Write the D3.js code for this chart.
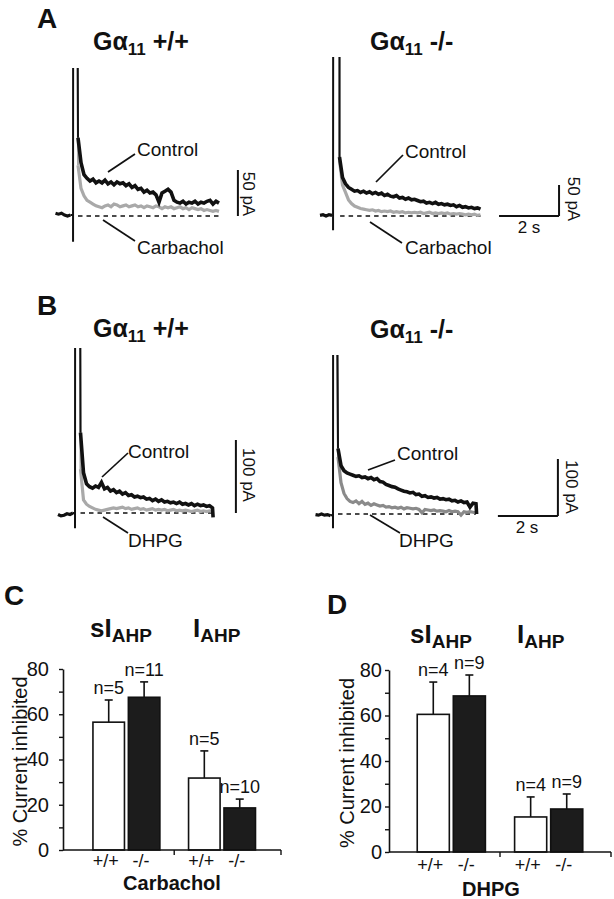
<!DOCTYPE html>
<html><head><meta charset="utf-8">
<script src="https://cdn.jsdelivr.net/npm/d3@7"></script>
<style>
body{margin:0;background:#fff}
svg{display:block}
text{font-family:"Liberation Sans",Arial,Helvetica,sans-serif;fill:#111}
</style></head>
<body><svg id="fig" width="614" height="899"></svg>
<script>
// ---------- DATA ----------
// sampling grid of the current traces (s after the spike)
const traceTimes = [0.1,0.2,0.3,0.4,0.5,0.6,0.7,0.8,0.9,1.0,1.1,1.2,1.3,1.4,1.5,1.6,1.7,1.8,1.9,2.0,
  2.1,2.2,2.3,2.4,2.5,2.6,2.7,2.8,2.9,3.0,3.1,3.2,3.3,3.4,3.5,3.6,3.7,3.8,3.9,4.0,
  4.1,4.2,4.3,4.4,4.5,4.6,4.7,4.8];
const preTimes = [-0.65,-0.55,-0.45,-0.35,-0.25,-0.15];

// Panel A, Gα11 +/+ (pA)
const aWtPre = [3,2,3,1,0,1];
const aWtSpike = [[-0.065,1],[-0.065,-28],[-0.06,400],[0.065,400]];
const aWtControl = [85,58,45,41,38,40,36,38,36,39,35,37,34,37,35,36,33,35,31,33,29,30,26,28,25,26,23,15,25,27,29,26,17,15,14,16,13,15,14,16,13,15,14,16,17,13,16,14];
const aWtCarbachol = [55,30,22,17,15,13,11,10,9,11,12,10,13,12,10,11,12,10,11,12,10,11,9,11,10,9,11,10,8,10,9,10,8,9,10,8,9,7,9,8,7,8,6,7,6,5,6,5];
// Panel A, Gα11 -/-
const aKoPre = [1,2,0,2,1];
const aKoSpike = [[-0.115,0],[-0.115,-23],[-0.11,400],[0.1,400]];
const aKoControl = [95,62,52,46,43,40,41,38,40,37,39,36,38,35,37,33,35,32,31,33,29,30,27,29,26,27,25,23,24,21,22,20,22,19,20,18,19,17,18,15,17,14,15,13,14,12,13,11];
const aKoCarbachol = [90,50,38,26,20,16,14,12,11,10,9,10,8,9,7,8,7,8,6,7,6,7,5,6,5,6,5,6,4,5,6,4,5,4,5,4,5,3,4,3,4,3,2,3,2,3,1,2];
// Panel B, Gα11 +/+
const bWtPre = [-2,-4,-3,-1,-2,0];
const bWtSpike = [[-0.083,0],[-0.083,-21],[-0.078,400],[0.083,400]];
const bWtControl = [110,55,40,36,34,37,35,42,33,35,30,32,28,30,26,28,24,25,22,23,21,22,19,20,17,19,16,18,15,16,14,15,13,15,12,13,11,13,10,12,10,11,9,10,7];
const bWtControlTail = [[4.52,-6]];
const bWtDHPG = [60,18,12,9,7,5,4,3,4,5,6,7,6,7,8,6,7,5,6,7,5,6,4,5,6,4,5,4,5,3,4,5,3,4,3,4,3,2,3,4,2,3,2,3,2];
// Panel B, Gα11 -/-
const bKoPre = [-1,-2,0,-2,-1,-3];
const bKoSpike = [[-0.067,-1],[-0.067,-25],[-0.062,400],[0.067,400]];
const bKoControl = [115,85,76,72,70,68,66,67,64,65,62,64,60,62,57,56,52,50,48,47,44,42,40,39,37,38,34,35,31,32,29,30,28,29,26,27,25,26,23,24,21,23,20,21,12,19,18];
const bKoControlTail = [[4.72,0]];
const bKoDHPG = [100,55,36,27,22,20,23,18,22,17,19,15,18,16,14,15,12,13,11,12,10,12,9,11,10,9,10,8,2,8,7,6,7,5,6,5,4,6,4,5,4,-2,4,3,4,3,2];

// Bar charts
const groups = ["sIAHP","IAHP"];
const genotypes = ["+/+","-/-"];
const yTicks = [0,10,20,30,40,50,60,70,80];
const carbMean = [56.5,67.5,31.8,18.6];
const carbSem  = [9.8,6.8,12.0,3.9];
const carbN    = ["n=5","n=11","n=5","n=10"];
const dhpgMean = [60.5,68.6,15.4,18.9];
const dhpgSem  = [14.2,9.2,8.8,6.6];
const dhpgN    = ["n=4","n=9","n=4","n=9"];

// ---------- DRAW ----------
const svg = d3.select("#fig");

function label(x, y, txt, size, weight, anchor) {
  return svg.append("text").attr("x", x).attr("y", y).attr("font-size", size)
    .attr("font-weight", weight || "normal").attr("text-anchor", anchor || "start").text(txt);
}
function leader(x1, y1, x2, y2) {
  svg.append("line").attr("x1", x1).attr("y1", y1).attr("x2", x2).attr("y2", y2)
    .attr("stroke", "#111").attr("stroke-width", 1.7);
}
function gTitle(x, y, suffix) {
  const t = svg.append("text").attr("x", x).attr("y", y).attr("font-size", 25).attr("font-weight", "bold");
  t.append("tspan").text("Gα");
  t.append("tspan").attr("font-size", 17).attr("dy", 5).text("11");
  t.append("tspan").attr("dy", -5).text(" " + suffix);
}
function ahpTitle(x, y, pre) {
  const t = svg.append("text").attr("x", x).attr("y", y).attr("font-size", 26).attr("font-weight", "bold");
  t.append("tspan").text(pre + "I");
  t.append("tspan").attr("font-size", 19).attr("dy", 5).text("AHP");
}

let clipCount = 0;
function tracePanel(p) {
  const x = d3.scaleLinear().domain([0, 1]).range([p.t0, p.t0 + 30]);
  const y = d3.scaleLinear().domain([0, 1]).range([p.base, p.base - p.pxPerPA]);
  const id = "clip" + (clipCount++);
  svg.append("clipPath").attr("id", id).append("rect")
    .attr("x", 0).attr("y", p.top).attr("width", 614).attr("height", 899 - p.top);
  const g = svg.append("g").attr("clip-path", `url(#${id})`);
  const line = d3.line().x(d => x(d[0])).y(d => y(d[1]));
  // dashed zero line
  g.append("path").datum([[p.dashFrom, 0], [p.end, 0]]).attr("d", line)
    .attr("stroke", "#111").attr("stroke-width", 1.3).attr("stroke-dasharray", "4.5,4").attr("fill", "none");
  const drugPost = p.drug.map((v, i) => [traceTimes[i], v]);
  const ctrlPost = p.control.map((v, i) => [traceTimes[i], v]).concat(p.tail || []);
  // drug (gray): spike + decay
  g.append("path").datum(p.spike.slice(2).concat(drugPost.slice(0, 1))).attr("d", line).attr("fill", "none")
    .attr("stroke", p.gray).attr("stroke-width", 2);
  g.append("path").datum(drugPost).attr("d", line).attr("fill", "none")
    .attr("stroke", p.gray).attr("stroke-width", 3.2).attr("stroke-linejoin", "miter");
  // control (black): baseline + spike, then decay
  const prePts = preTimes.slice(preTimes.length - p.pre.length).map((t, i) => [t, p.pre[i]]);
  g.append("path").datum(prePts).attr("d", line).attr("fill", "none")
    .attr("stroke", "#111").attr("stroke-width", 3.2);
  g.append("path").datum(prePts.slice(-1).concat(p.spike, ctrlPost.slice(0, 1))).attr("d", line).attr("fill", "none")
    .attr("stroke", "#111").attr("stroke-width", 2);
  g.append("path").datum(ctrlPost).attr("d", line).attr("fill", "none")
    .attr("stroke", "#111").attr("stroke-width", 3.6).attr("stroke-linejoin", "miter");
  // scale bars
  const sb = svg.append("g").attr("stroke", "#111").attr("stroke-width", 2).attr("fill", "none");
  if (p.hBar) {
    sb.append("line").attr("x1", x(p.hBar[0])).attr("x2", x(p.hBar[1]))
      .attr("y1", y(p.barY0)).attr("y2", y(p.barY0));
  }
  sb.append("line").attr("x1", x(p.vBarT)).attr("x2", x(p.vBarT))
    .attr("y1", y(p.barY0)).attr("y2", y(p.barY0 + p.vBarPA));
  return {x, y};
}

// Panel letters
label(37, 28, "A", 28, "bold");
label(37, 315, "B", 28, "bold");
label(4, 605, "C", 28, "bold");
label(327, 614, "D", 28, "bold");

// ---- Panel A ----
gTitle(93, 50, "+/+");
gTitle(370, 50, "-/-");
tracePanel({t0: 75, base: 216, pxPerPA: 0.92, top: 68, pre: aWtPre, spike: aWtSpike,
  control: aWtControl, drug: aWtCarbachol, gray: "#a9a9a9", dashFrom: 0.1, end: 4.8,
  vBarT: 5.43, barY0: 0, vBarPA: 50});
tracePanel({t0: 336.5, base: 216, pxPerPA: 0.62, top: 57, pre: aKoPre, spike: aKoSpike,
  control: aKoControl, drug: aKoCarbachol, gray: "#a9a9a9", dashFrom: 0.12, end: 4.85,
  hBar: [5.418, 7.418], vBarT: 7.418, barY0: 0, vBarPA: 50});
label(137, 156, "Control", 19);
leader(135, 154, 108, 172);
label(137, 254, "Carbachol", 19);
leader(103, 220, 135, 241);
label(405, 158, "Control", 19);
leader(403, 155, 376, 182);
label(405, 254, "Carbachol", 19);
leader(370, 222, 402, 243);
svg.append("text").attr("font-size", 17).attr("text-anchor", "middle")
  .attr("transform", "translate(243,194) rotate(90)").text("50 pA");
svg.append("text").attr("font-size", 17).attr("text-anchor", "middle")
  .attr("transform", "translate(568,199) rotate(90)").text("50 pA");
label(529, 233, "2 s", 17, "normal", "middle");

// ---- Panel B ----
gTitle(93, 337, "+/+");
gTitle(370, 338, "-/-");
tracePanel({t0: 77.5, base: 513, pxPerPA: 0.73, top: 348, pre: bWtPre, spike: bWtSpike,
  control: bWtControl, tail: bWtControlTail, drug: bWtDHPG, gray: "#a9a9a9", dashFrom: 0.1, end: 4.5,
  vBarT: 5.28, barY0: 0, vBarPA: 100});
tracePanel({t0: 335, base: 514, pxPerPA: 0.57, top: 355, pre: bKoPre, spike: bKoSpike,
  control: bKoControl, tail: bKoControlTail, drug: bKoDHPG, gray: "#8a8a8a", dashFrom: 0.1, end: 4.7,
  hBar: [5.43, 7.43], vBarT: 7.43, barY0: -3.5, vBarPA: 100});
label(128, 458, "Control", 19);
leader(128, 453, 102, 477);
label(128, 547, "DHPG", 19);
leader(103, 517, 128, 533);
label(397, 460, "Control", 19);
leader(395, 460, 368, 470);
label(399, 547, "DHPG", 19);
leader(370, 515, 400, 533);
svg.append("text").attr("font-size", 17).attr("text-anchor", "middle")
  .attr("transform", "translate(243,475) rotate(90)").text("100 pA");
svg.append("text").attr("font-size", 17).attr("text-anchor", "middle")
  .attr("transform", "translate(566,487) rotate(90)").text("100 pA");
label(527, 533, "2 s", 17, "normal", "middle");

// ---- Bar charts ----
function barChart(o) {
  const y = d3.scaleLinear().domain([0, 80]).range([o.y0, o.y80]);
  const outer = d3.scaleBand().domain(groups).range([o.axisX, o.xEnd])
    .paddingInner(0.3).paddingOuter(0.29).align(o.align);
  const inner = d3.scaleBand().domain(genotypes).range([0, outer.bandwidth()]).paddingInner(0.11);
  const rows = [];
  groups.forEach((gName, gi) => genotypes.forEach((gt, ti) => {
    const k = gi * 2 + ti;
    rows.push({g: gName, gt, mean: o.mean[k], sem: o.sem[k], n: o.n[k]});
  }));
  const g = svg.append("g");
  const cx = d => outer(d.g) + inner(d.gt) + inner.bandwidth() / 2;
  // error bars
  g.selectAll(".err").data(rows).enter().append("line")
    .attr("x1", cx).attr("x2", cx).attr("y1", d => y(d.mean)).attr("y2", d => y(d.mean + d.sem))
    .attr("stroke", "#111").attr("stroke-width", 1.6);
  g.selectAll(".cap").data(rows).enter().append("line")
    .attr("x1", d => cx(d) - 4).attr("x2", d => cx(d) + 4)
    .attr("y1", d => y(d.mean + d.sem)).attr("y2", d => y(d.mean + d.sem))
    .attr("stroke", "#111").attr("stroke-width", 1.6);
  // bars
  g.selectAll(".bar").data(rows).enter().append("rect")
    .attr("x", d => outer(d.g) + inner(d.gt)).attr("width", inner.bandwidth())
    .attr("y", d => y(d.mean)).attr("height", d => y(0) - y(d.mean))
    .attr("fill", d => d.gt === "+/+" ? "#fff" : "#1c1c1c")
    .attr("stroke", "#111").attr("stroke-width", 1.6);
  // n labels
  g.selectAll(".n").data(rows).enter().append("text")
    .attr("x", cx).attr("y", d => y(d.mean + d.sem) - 6)
    .attr("text-anchor", "middle").attr("font-size", 18).text(d => d.n);
  // category labels
  g.selectAll(".cat").data(rows).enter().append("text")
    .attr("x", d => cx(d) - 3).attr("y", o.catY)
    .attr("text-anchor", "middle").attr("font-size", 18).text(d => d.gt);
  // y axis
  const ax = svg.append("g").attr("transform", `translate(${o.axisX},0)`)
    .call(d3.axisLeft(y).tickValues(yTicks).tickFormat(d => d % 20 === 0 ? d : "")
      .tickSize(4).tickSizeOuter(0).tickPadding(o.tickPad));
  ax.select(".domain").attr("stroke", "#111").attr("stroke-width", 1.6);
  ax.selectAll(".tick line").attr("stroke", "#111").attr("stroke-width", 1.4);
  ax.selectAll(".tick text").attr("font-size", 20).attr("fill", "#111")
    .attr("font-family", "'Liberation Sans', Arial, sans-serif");
  // x axis line with group separator ticks
  svg.append("line").attr("x1", o.axisX).attr("x2", o.xEnd).attr("y1", y(0)).attr("y2", y(0))
    .attr("stroke", "#111").attr("stroke-width", 1.6);
  const mid = (outer(groups[0]) + outer.bandwidth() + outer(groups[1])) / 2;
  [mid, o.xEnd].forEach(t => svg.append("line").attr("x1", t).attr("x2", t)
    .attr("y1", y(0)).attr("y2", y(0) + 5).attr("stroke", "#111").attr("stroke-width", 1.4));
  // axis title
  svg.append("text").attr("font-size", 20).attr("text-anchor", "middle")
    .attr("transform", `translate(${o.yLabX},${(y(0) + y(80)) / 2 + 2}) rotate(-90)`)
    .text("% Current inhibited");
  label(o.drugX, o.drugY, o.drug, 20, "bold", "middle");
  ahpTitle(o.titleX[0], o.titleY, "s");
  ahpTitle(o.titleX[1], o.titleY, "");
}

barChart({y0: 850, y80: 669, axisX: 63, xEnd: 281, align: 0.54, mean: carbMean, sem: carbSem, n: carbN,
  tickPad: 10, catY: 867, yLabX: 27, drug: "Carbachol", drugX: 172, drugY: 890, titleX: [90, 193], titleY: 637});
barChart({y0: 852, y80: 670, axisX: 389, xEnd: 611, align: 0.5, mean: dhpgMean, sem: dhpgSem, n: dhpgN,
  tickPad: 3, catY: 871, yLabX: 354, drug: "DHPG", drugX: 491, drugY: 896, titleX: [410, 517], titleY: 643});
</script>
</body></html>
